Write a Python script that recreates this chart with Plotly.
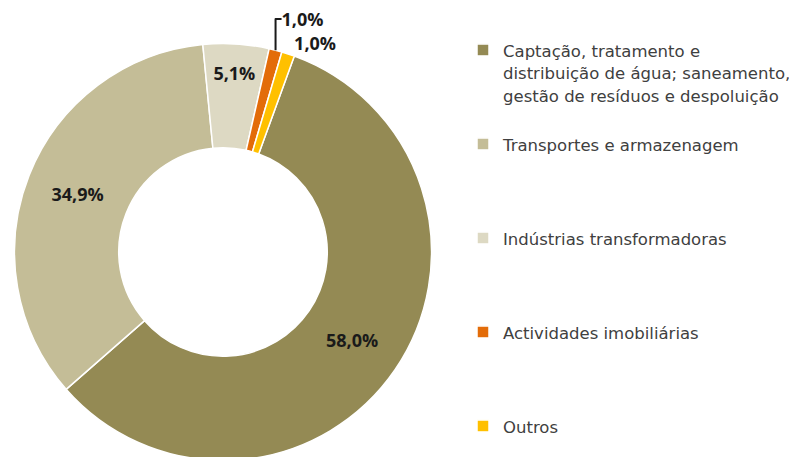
import plotly.graph_objects as go

labels = ['Captação, tratamento e<br>distribuição de água; saneamento,<br>gestão de resíduos e despoluição',
          'Transportes e armazenagem',
          'Indústrias transformadoras',
          'Actividades imobiliárias',
          'Outros']
values = [58.0, 34.9, 5.1, 1.0, 1.0]
colors = ['#948A54', '#C4BD97', '#DDD9C3', '#E36C09', '#FFC000']

# pad legend entries with blank lines so they spread down like the original
pad = [1, 3, 3, 3, 0]
span = '<span style="font-size:16.5px">'
legend_labels = [span + l.replace('<br>', '</span><br>' + span) + '</span>' + '<br>\u00a0' * n
                 for l, n in zip(labels, pad)]

fig = go.Figure()
fig.add_trace(go.Pie(labels=legend_labels, values=values, hole=0.5, sort=False,
                     direction='clockwise', rotation=20,
                     marker=dict(colors=colors, line=dict(color='white', width=1.5)),
                     texttemplate='%{percent:.1%}',
                     textposition=['inside', 'inside', 'inside', 'outside', 'outside'],
                     insidetextorientation='horizontal',
                     textfont=dict(family='Open Sans', size=18, color='#1a1a1a', weight='bold'),
                     domain=dict(x=[5/797, 425/797], y=[4.5/457, 421.5/457])))

fig.update_layout(width=797, height=457, separators=', ',
                  margin=dict(l=0, r=0, t=0, b=0, autoexpand=False),
                  paper_bgcolor='white', plot_bgcolor='white',
                  legend=dict(x=455/797, y=(457-24)/457, maxheight=1,
                              xanchor='left', yanchor='top', valign='top',
                              font=dict(family='DejaVu Sans', size=17.5, color='#404040')))
fig.write_html("out.html")
